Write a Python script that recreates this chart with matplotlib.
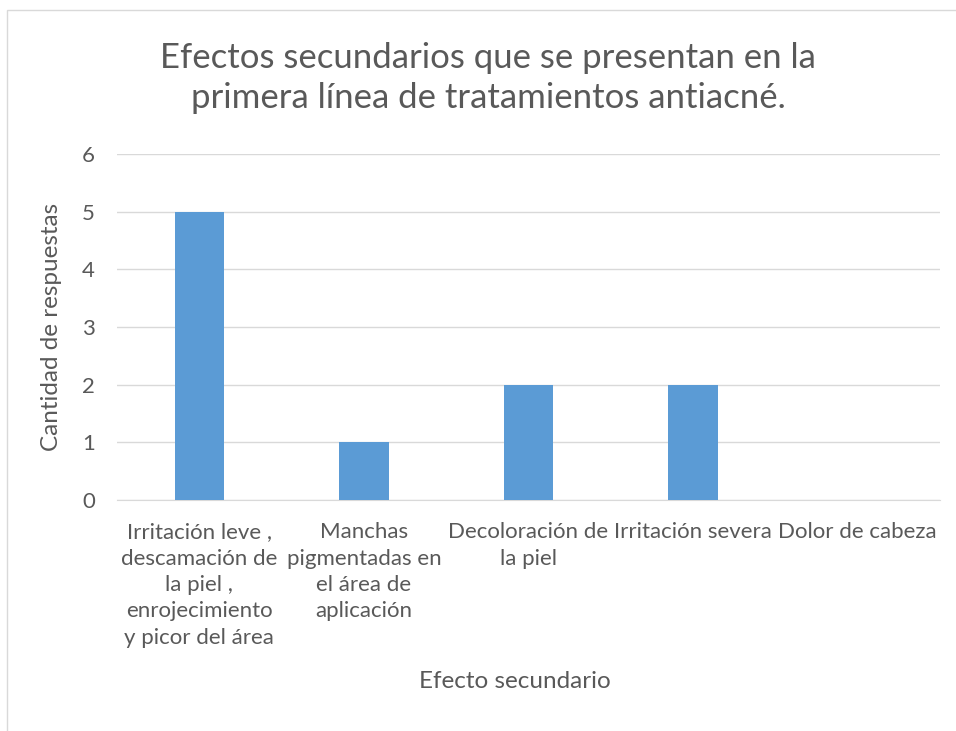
import matplotlib.pyplot as plt
from matplotlib.patches import Rectangle

categories = [
    "Irritación leve ,\ndescamación de\nla piel ,\nenrojecimiento\ny picor del área",
    "Manchas\npigmentadas en\nel área de\naplicación",
    "Decoloración de\nla piel",
    "Irritación severa",
    "Dolor de cabeza",
]
respuestas = [5, 1, 2, 2, 0]
yticks = [0, 1, 2, 3, 4, 5, 6]

text_color = "#595959"
bar_color = "#5B9BD5"
grid_color = "#D9D9D9"

plt.rcParams['font.family'] = ['Lato', 'DejaVu Sans']

fig = plt.figure(figsize=(9.56, 7.31), dpi=100)
# light frame round the chart area
fig.patches.append(Rectangle((7 / 956, -0.1), 1.2, (731 - 10) / 731 + 0.1,
                             transform=fig.transFigure, fill=False,
                             edgecolor=grid_color, linewidth=1))

ax = fig.add_axes([117 / 956, (731 - 500) / 731, 823 / 956, 346 / 731])
x = range(len(categories))
ax.bar(x, respuestas, width=0.30, color=bar_color, zorder=3)

ax.set_xlim(-0.5, len(categories) - 0.5)
ax.set_ylim(0, 6)
ax.set_yticks(yticks)
ax.set_xticks(list(x))
ax.set_xticklabels(categories, ha="center", va="top", linespacing=1.4)
ax.grid(axis="y", color=grid_color, linewidth=1, zorder=0)
for s in ["top", "right", "left"]:
    ax.spines[s].set_visible(False)
ax.spines["bottom"].set_color(grid_color)
ax.tick_params(length=0, labelsize=16, colors=text_color)
ax.tick_params(axis="x", pad=16)
ax.tick_params(axis="y", pad=16)

ax.set_xlabel("Efecto secundario", fontsize=17.5, color=text_color)
ax.xaxis.label.set_verticalalignment("center")
ax.xaxis.set_label_coords((515 - 117) / 823, -(682 - 500) / 346)
ax.set_ylabel("Cantidad de respuestas", fontsize=17.5, color=text_color, labelpad=14)

fig.text(488 / 956, (731 - 78) / 731,
         "Efectos secundarios que se presentan en la\nprimera línea de tratamientos antiacné.",
         ha="center", va="center", fontsize=25, color=text_color,
         linespacing=1.3)

fig.savefig("out.png", dpi=100)
